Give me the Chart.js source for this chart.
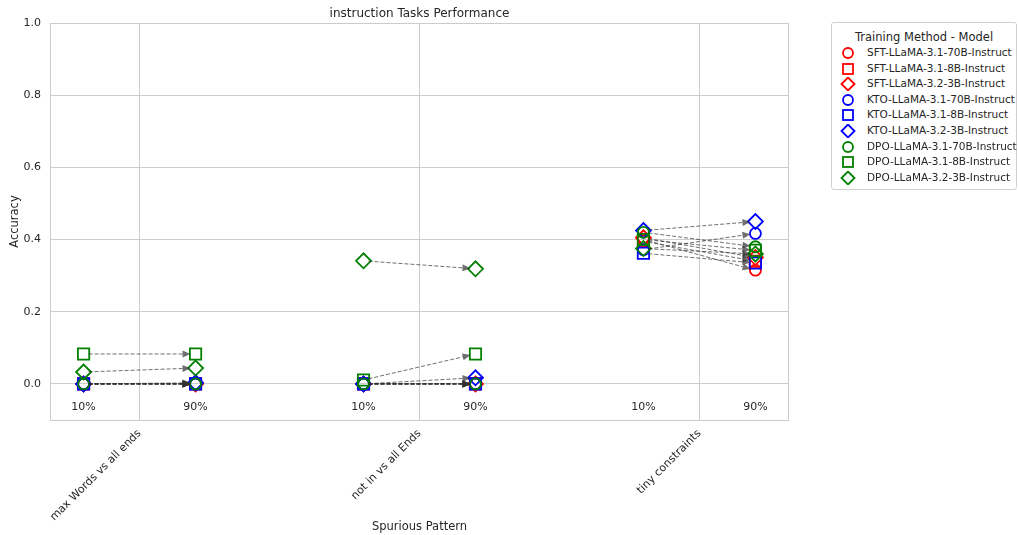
<!DOCTYPE html>
<html><head><meta charset="utf-8">
<script src="https://cdn.jsdelivr.net/npm/chart.js@4.4.0/dist/chart.umd.min.js"></script>
<style>
html,body{margin:0;padding:0;background:#fff;}
#wrap{position:relative;width:1018px;height:535px;font-family:"DejaVu Sans",sans-serif;color:#262626;overflow:hidden;}
#c{position:absolute;left:0;top:0;}
#title{position:absolute;top:5px;left:50px;width:739px;text-align:center;font-size:12px;line-height:16px;}
#legend{position:absolute;left:831px;top:22px;width:184px;height:166px;border:1px solid #d0d0d0;border-radius:3px;background:#fff;font-size:10.5px;}
#legend .lt{text-align:center;font-size:11.5px;margin-top:7px;height:15px;line-height:15px;}
#legend .row{height:15.6px;line-height:15.6px;white-space:nowrap;position:relative;}
#legend svg{position:absolute;left:8px;top:1px;}
#legend span{position:absolute;left:35px;top:0;}
</style></head>
<body><div id="wrap">
<canvas id="c" width="1018" height="535"></canvas>
<div id="title">instruction Tasks Performance</div>
<div id="legend"><div class="lt">Training Method - Model</div></div>
</div>
<script>
// ---- data ----
const patterns = ['max Words vs all ends', 'not in vs all Ends', 'tiny constraints'];
const ratioLabels = ['10%', '90%'];
const methods = ['SFT', 'KTO', 'DPO'];
const models = ['LLaMA-3.1-70B-Instruct', 'LLaMA-3.1-8B-Instruct', 'LLaMA-3.2-3B-Instruct'];
// each array: [pattern1 10%, pattern1 90%, pattern2 10%, pattern2 90%, pattern3 10%, pattern3 90%]
const SFT_70B = [0.000, 0.000, 0.000, 0.000, 0.400, 0.315];
const SFT_8B  = [0.000, 0.000, 0.000, 0.000, 0.395, 0.340];
const SFT_3B  = [0.000, 0.000, 0.000, 0.000, 0.405, 0.350];
const KTO_70B = [0.000, 0.000, 0.000, 0.000, 0.372, 0.417];
const KTO_8B  = [0.000, 0.000, 0.000, 0.000, 0.362, 0.335];
const KTO_3B  = [0.000, 0.003, 0.000, 0.017, 0.425, 0.450];
const DPO_70B = [0.000, 0.000, 0.000, 0.000, 0.420, 0.380];
const DPO_8B  = [0.083, 0.083, 0.011, 0.083, 0.400, 0.370];
const DPO_3B  = [0.033, 0.044, 0.341, 0.319, 0.375, 0.360];
const yTicks = [0.0, 0.2, 0.4, 0.6, 0.8, 1.0];

const seriesValues = [SFT_70B, SFT_8B, SFT_3B, KTO_70B, KTO_8B, KTO_3B, DPO_70B, DPO_8B, DPO_3B];
const methodColors = {SFT: '#ff0000', KTO: '#0000ff', DPO: '#008000'};
const modelStyles = ['circle', 'rect', 'rectRot'];
const modelRadius = [5.5, 8, 7.5];
const OFFSET = 0.2;

const datasets = [];
let k = 0;
methods.forEach(m => {
  models.forEach((md, mi) => {
    const vals = seriesValues[k];
    const pts = [];
    patterns.forEach((p, g) => {
      ratioLabels.forEach((r, ri) => {
        pts.push({x: g + (ri === 0 ? -OFFSET : OFFSET), y: vals[g * 2 + ri]});
      });
    });
    datasets.push({
      label: m + '-' + md,
      data: pts,
      order: seriesValues.length - k,
      pointStyle: modelStyles[mi],
      pointRadius: modelRadius[mi],
      pointHoverRadius: modelRadius[mi],
      borderColor: methodColors[m],
      backgroundColor: 'rgba(0,0,0,0)',
      pointBorderWidth: 1.8,
      showLine: false
    });
    k++;
  });
});

// legend (HTML)
const leg = document.getElementById('legend');
datasets.forEach((ds, i) => {
  const row = document.createElement('div');
  row.className = 'row';
  const c = ds.borderColor;
  let shape;
  if (ds.pointStyle === 'circle') shape = `<circle cx="8" cy="7" r="5" fill="none" stroke="${c}" stroke-width="1.8"/>`;
  else if (ds.pointStyle === 'rect') shape = `<rect x="3" y="2" width="10" height="10" fill="none" stroke="${c}" stroke-width="1.8"/>`;
  else shape = `<polygon points="8,0.5 14.5,7 8,13.5 1.5,7" fill="none" stroke="${c}" stroke-width="1.8"/>`;
  row.innerHTML = `<svg width="16" height="14">${shape}</svg><span>${ds.label}</span>`;
  leg.appendChild(row);
});

const arrowPlugin = {
  id: 'arrows',
  afterDatasetsDraw(chart) {
    const ctx = chart.ctx;
    ctx.save();
    chart.data.datasets.forEach((ds, di) => {
      const meta = chart.getDatasetMeta(di);
      for (let g = 0; g < patterns.length; g++) {
        const a = meta.data[g * 2], b = meta.data[g * 2 + 1];
        const dx = b.x - a.x, dy = b.y - a.y;
        const len = Math.hypot(dx, dy);
        const ux = dx / len, uy = dy / len;
        const sx = a.x + ux * 5, sy = a.y + uy * 5;
        const ex = b.x - ux * 5, ey = b.y - uy * 5;
        const hl = 8, hw = 3.5;
        const bx = ex - ux * hl, by = ey - uy * hl;
        ctx.strokeStyle = 'rgba(50,50,50,0.7)';
        ctx.fillStyle = 'rgba(50,50,50,0.7)';
        ctx.lineWidth = 1;
        ctx.setLineDash([4, 2]);
        ctx.beginPath();
        ctx.moveTo(sx, sy);
        ctx.lineTo(bx, by);
        ctx.stroke();
        ctx.setLineDash([]);
        ctx.beginPath();
        ctx.moveTo(ex, ey);
        ctx.lineTo(bx - uy * hw, by + ux * hw);
        ctx.lineTo(bx + uy * hw, by - ux * hw);
        ctx.closePath();
        ctx.fill();
      }
    });
    ctx.restore();
  }
};

const pctPlugin = {
  id: 'pct',
  afterDraw(chart) {
    const ctx = chart.ctx, xs = chart.scales.x, ys = chart.scales.y;
    ctx.save();
    ctx.font = '11px "DejaVu Sans"';
    ctx.fillStyle = '#262626';
    ctx.textAlign = 'center';
    ctx.textBaseline = 'middle';
    patterns.forEach((p, g) => {
      ratioLabels.forEach((r, ri) => {
        ctx.fillText(r, xs.getPixelForValue(g + (ri === 0 ? -OFFSET : OFFSET)), ys.getPixelForValue(-0.065));
      });
    });
    const ca = chart.chartArea;
    ctx.strokeStyle = '#cccccc';
    ctx.lineWidth = 1;
    ctx.strokeRect(ca.left + 0.5, ca.top + 0.5, ca.right - ca.left - 1, ca.bottom - ca.top);
    ctx.restore();
  }
};

new Chart(document.getElementById('c'), {
  type: 'scatter',
  data: {datasets},
  options: {
    responsive: false,
    animation: false,
    events: [],
    layout: {padding: {top: 23, right: 229, left: 0, bottom: 0}},
    plugins: {legend: {display: false}, title: {display: false}, tooltip: {enabled: false}},
    scales: {
      x: {
        type: 'linear', min: -0.32, max: 2.32,
        afterBuildTicks: s => { s.ticks = patterns.map((p, i) => ({value: i})); },
        afterFit: s => { s.height = 115; s.paddingLeft = 0; s.paddingRight = 0; },
        ticks: {
          callback: v => patterns[v],
          minRotation: 45, maxRotation: 45, autoSkip: false,
          padding: 7, color: '#262626', font: {family: 'DejaVu Sans', size: 11}
        },
        grid: {color: '#cccccc', drawTicks: false},
        border: {display: false},
        title: {display: true, text: 'Spurious Pattern', color: '#262626', font: {family: 'DejaVu Sans', size: 11.5}, padding: {top: 0, bottom: 1}}
      },
      y: {
        min: -0.1, max: 1.0,
        afterBuildTicks: s => { s.ticks = yTicks.map(v => ({value: v})); },
        afterFit: s => { s.width = 50; },
        ticks: {
          callback: v => Number(v).toFixed(1),
          padding: 9, color: '#262626', font: {family: 'DejaVu Sans', size: 11}
        },
        grid: {color: '#cccccc', drawTicks: false},
        border: {display: false},
        title: {display: true, text: 'Accuracy', color: '#262626', font: {family: 'DejaVu Sans', size: 11.5}, padding: {top: 8, bottom: 0}}
      }
    }
  },
  plugins: [arrowPlugin, pctPlugin]
});
</script>
</body></html>
